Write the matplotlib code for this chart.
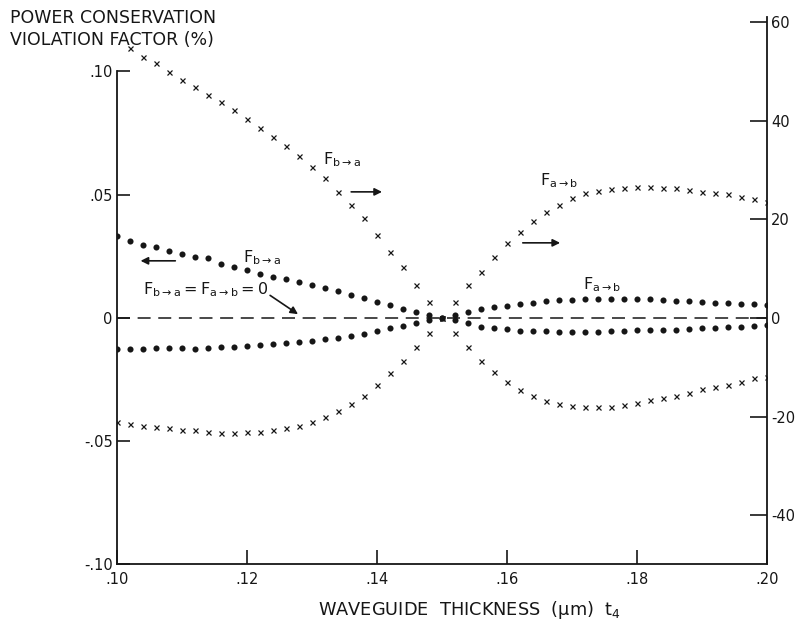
# Power conservation violation factor vs. waveguide thickness
import matplotlib.pyplot as plt

plt.rcParams['font.family'] = ['DejaVu Sans']
plt.rcParams['axes.unicode_minus'] = False
plt.rcParams['mathtext.fontset'] = 'dejavusans'

# --- data ---
# waveguide thickness t4 (um)
thickness = [0.100, 0.102, 0.104, 0.106, 0.108, 0.110, 0.112, 0.114, 0.116, 0.118,
             0.120, 0.122, 0.124, 0.126, 0.128, 0.130, 0.132, 0.134, 0.136, 0.138,
             0.140, 0.142, 0.144, 0.146, 0.148, 0.150, 0.152, 0.154, 0.156, 0.158,
             0.160, 0.162, 0.164, 0.166, 0.168, 0.170, 0.172, 0.174, 0.176, 0.178,
             0.180, 0.182, 0.184, 0.186, 0.188, 0.190, 0.192, 0.194, 0.196, 0.198,
             0.200]

# crosses, right scale: F(b->a) and F(a->b)
f_ba = [None, 54.8, 52.9, 51.7, 49.9, 48.3, 46.9, 45.2, 43.8, 42.2,
        40.4, 38.5, 36.7, 34.9, 32.9, 30.6, 28.4, 25.6, 22.9, 20.3,
        16.8, 13.4, 10.3, 6.7, 3.2, 0.0, -3.0, -5.9, -8.7, -11.0,
        -13.0, -14.6, -15.8, -16.8, -17.4, -17.8, -18.1, -18.1, -18.1, -17.6,
        -17.2, -16.6, -16.2, -15.8, -15.2, -14.4, -14.0, -13.6, -13.0, -12.2,
        -12.0]
f_ab = [-21.1, -21.5, -21.9, -22.1, -22.3, -22.7, -22.7, -23.1, -23.3, -23.3,
        -23.1, -23.1, -22.7, -22.3, -21.9, -21.1, -20.1, -18.9, -17.4, -15.8,
        -13.6, -11.2, -8.7, -5.9, -3.0, 0.0, 3.2, 6.7, 9.3, 12.4,
        15.2, 17.4, 19.7, 21.5, 22.9, 24.3, 25.4, 25.8, 26.2, 26.4,
        26.6, 26.6, 26.4, 26.4, 26.0, 25.6, 25.4, 25.2, 24.5, 24.1,
        23.5]

# dots, left scale: violation factor (%)
v_ba = [0.0332, 0.0312, 0.0296, 0.0287, 0.0271, 0.0259, 0.0247, 0.0243, 0.0219, 0.0206,
        0.0194, 0.0178, 0.0166, 0.0158, 0.0146, 0.0134, 0.0121, 0.0109, 0.0093, 0.0081,
        0.0065, 0.0051, 0.0036, 0.0024, 0.0010, 0.0, -0.0010, -0.0020, -0.0036, -0.0040,
        -0.0045, -0.0053, -0.0053, -0.0055, -0.0057, -0.0057, -0.0057, -0.0057, -0.0055, -0.0053,
        -0.0051, -0.0051, -0.0049, -0.0049, -0.0045, -0.0043, -0.0040, -0.0038, -0.0036, -0.0032,
        -0.0030]
v_ab = [-0.0126, -0.0126, -0.0126, -0.0121, -0.0121, -0.0121, -0.0126, -0.0121, -0.0117, -0.0117,
        -0.0113, -0.0109, -0.0105, -0.0101, -0.0097, -0.0093, -0.0085, -0.0081, -0.0073, -0.0065,
        -0.0053, -0.0040, -0.0032, -0.0020, -0.0008, 0.0, 0.0010, 0.0024, 0.0036, 0.0045,
        0.0047, 0.0057, 0.0061, 0.0067, 0.0071, 0.0073, 0.0075, 0.0077, 0.0077, 0.0077,
        0.0077, 0.0077, 0.0073, 0.0069, 0.0069, 0.0063, 0.0061, 0.0061, 0.0057, 0.0057,
        0.0053]

x_ticks = [0.10, 0.12, 0.14, 0.16, 0.18, 0.20]
x_labels = ['.10', '.12', '.14', '.16', '.18', '.20']
yl_ticks = [-0.10, -0.05, 0.0, 0.05, 0.10]
yl_labels = ['-.10', '-.05', '0', '.05', '.10']
yr_ticks = [-40, -20, 0, 20, 40, 60]
yr_labels = ['-40', '-20', '0', '20', '40', '60']

ink = '#161616'

fig = plt.figure(figsize=(8.05, 6.24), dpi=100)
ax = fig.add_axes([117 / 805, 60 / 624, 650 / 805, 547 / 624])
ax2 = ax.twinx()

# dots (left scale)
ax.plot(thickness, v_ba, 'o', color=ink, ms=4.4, mew=0)
ax.plot(thickness, v_ab, 'o', color=ink, ms=4.4, mew=0)
# zero line
ax.axhline(0, color=ink, lw=1.1, dashes=[8.5, 5.0])

# crosses (right scale)
f_ba_plot = [float('nan') if v is None else v for v in f_ba]
ax2.plot(thickness, f_ba_plot, ls='none', marker='x', color=ink, ms=3.6, mew=0.9)
ax2.plot(thickness, f_ab, ls='none', marker='x', color=ink, ms=3.6, mew=0.9)

# axes
ax.set_xlim(0.10, 0.20)
ax.set_ylim(-0.10, 0.1221)
ax2.set_ylim(-49.9, 61.05)

ax.set_xticks(x_ticks)
ax.set_xticklabels(x_labels)
ax.set_yticks(yl_ticks)
ax.set_yticklabels(yl_labels)
ax2.set_yticks(yr_ticks)
ax2.set_yticklabels(yr_labels)

for a in (ax, ax2):
    a.spines['top'].set_visible(False)
    for s in a.spines.values():
        s.set_linewidth(1.3)
        s.set_color(ink)
ax.spines['right'].set_visible(False)
ax2.spines['left'].set_visible(False)
ax2.spines['bottom'].set_visible(False)
ax.spines['left'].set_bounds(-0.10, 0.10)

ax.tick_params(axis='x', direction='in', length=10, width=1.2, labelsize=10.5, pad=6, colors=ink)
ax.tick_params(axis='y', direction='in', length=9, width=1.2, labelsize=10.5, pad=3, colors=ink)
ax2.tick_params(axis='y', direction='in', length=12, width=1.2, labelsize=10.5, pad=3, colors=ink)

# labels
fig.text(10 / 805, 1 - 18 / 624, 'POWER CONSERVATION', va='center', ha='left', size=12.5, color=ink)
fig.text(10 / 805, 1 - 40 / 624, 'VIOLATION FACTOR (%)', va='center', ha='left', size=12.5, color=ink)
fig.text(318 / 805, 1 - 610 / 624, r'WAVEGUIDE  THICKNESS  ($\mathregular{\mu}$m)  t$_\mathregular{4}$',
         va='center', ha='left', size=12.8, color=ink)

# annotations
arrow = dict(arrowstyle='-|>', color=ink, lw=1.2, mutation_scale=11)
ax.text(0.1317, 0.0641, r'$\mathregular{F_{b\rightarrow a}}$', size=11.5, color=ink, va='center')
ax.annotate('', xy=(0.1412, 0.0511), xytext=(0.1356, 0.0511), arrowprops=arrow)

ax.text(0.1194, 0.0243, r'$\mathregular{F_{b\rightarrow a}}$', size=11.5, color=ink, va='center')
ax.annotate('', xy=(0.1032, 0.0231), xytext=(0.1094, 0.0231), arrowprops=arrow)

ax.text(0.1040, 0.0114, r'$\mathregular{F_{b\rightarrow a}=F_{a\rightarrow b}=0}$',
        size=11.5, color=ink, va='center')
ax.annotate('', xy=(0.1282, 0.0008), xytext=(0.1232, 0.0097), arrowprops=arrow)

ax.text(0.1651, 0.0556, r'$\mathregular{F_{a\rightarrow b}}$', size=11.5, color=ink, va='center')
ax.annotate('', xy=(0.1686, 0.0304), xytext=(0.1620, 0.0304), arrowprops=arrow)

ax.text(0.1717, 0.0134, r'$\mathregular{F_{a\rightarrow b}}$', size=11.5, color=ink, va='center')

fig.savefig('out.png', dpi=100, facecolor='white')
